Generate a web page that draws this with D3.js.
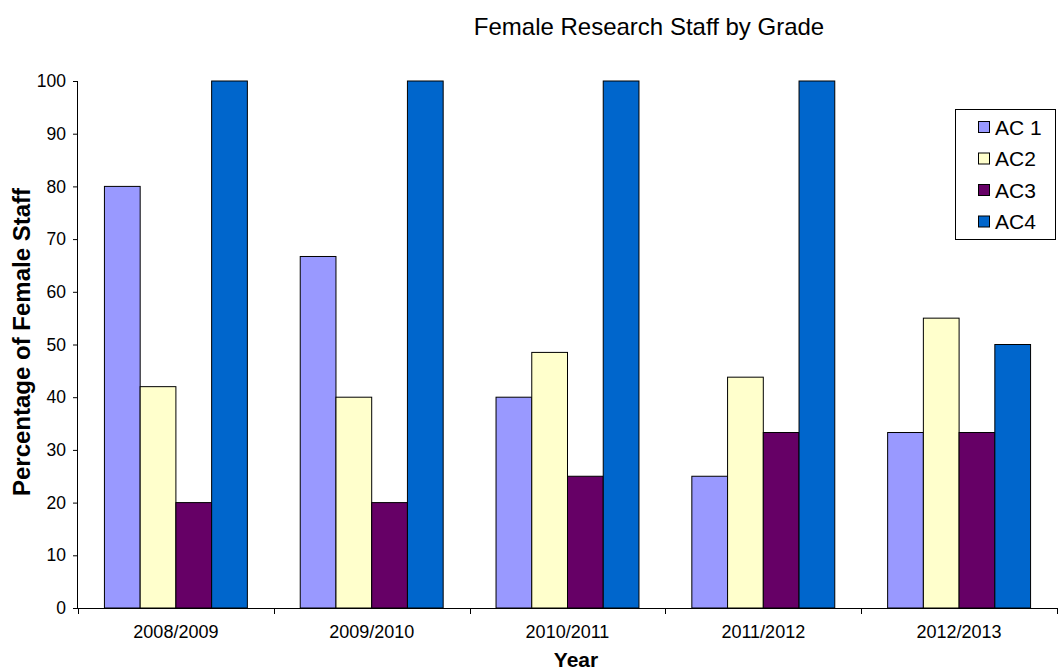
<!DOCTYPE html>
<html>
<head>
<meta charset="utf-8">
<script src="https://cdn.jsdelivr.net/npm/d3@7"></script>
<style>
  body { margin: 0; background: #fff; }
  text { font-family: "Liberation Sans", Arial, sans-serif; }
</style>
</head>
<body>
<div id="chart"></div>
<script>
// data
const years = ["2008/2009", "2009/2010", "2010/2011", "2011/2012", "2012/2013"];
const grades = ["AC 1", "AC2", "AC3", "AC4"];
const ac1 = [80, 66.7, 40, 25, 33.3];
const ac2 = [42, 40, 48.5, 43.8, 55];
const ac3 = [20, 20, 25, 33.3, 33.3];
const ac4 = [100, 100, 100, 100, 50];
const yTicks = [0, 10, 20, 30, 40, 50, 60, 70, 80, 90, 100];
const colors = ["#9999ff", "#ffffcc", "#660066", "#0066cc"];

const series = [ac1, ac2, ac3, ac4];

let width = 1060, height = 670;
let margin = {left: 78, right: 3, top: 81, bottom: 62};

let svg = d3.select("#chart")
    .append("svg")
    .attr("width", width)
    .attr("height", height);

let x0 = d3.scaleBand()
    .domain(years)
    .range([margin.left, width - margin.right])
    .paddingInner(0.27)
    .paddingOuter(0.135);

let x1 = d3.scaleBand()
    .domain(grades)
    .range([0, x0.bandwidth()]);

let y = d3.scaleLinear()
    .domain([0, 100])
    .range([height - margin.bottom, margin.top]);

let color = d3.scaleOrdinal().domain(grades).range(colors);

// bars
let groups = svg.selectAll(".grp")
    .data(years)
    .enter()
    .append("g")
    .attr("class", "grp")
    .attr("transform", function(d) { return "translate(" + x0(d) + ",0)"; });

groups.selectAll("rect")
    .data(function(d, i) {
      return grades.map(function(g, j) { return {grade: g, value: series[j][i]}; });
    })
    .enter()
    .append("rect")
    .attr("x", function(d) { return x1(d.grade); })
    .attr("y", function(d) { return y(d.value); })
    .attr("width", x1.bandwidth())
    .attr("height", function(d) { return y(0) - y(d.value); })
    .attr("fill", function(d) { return color(d.grade); })
    .attr("stroke", "#000")
    .attr("stroke-width", 1);

// y axis
let yAxis = svg.append("g")
    .attr("transform", "translate(" + margin.left + ",0)")
    .call(d3.axisLeft(y).tickValues(yTicks).tickSize(5).tickPadding(7));
yAxis.selectAll("text").attr("font-size", 17.5).attr("fill", "#000").attr("font-family", "Liberation Sans, Arial, sans-serif");
yAxis.selectAll("line, path").attr("stroke", "#000");
yAxis.select("path").attr("d", "M-0.5," + y(100) + "V" + y(0));

// x axis: ticks at category boundaries
let xg = svg.append("g")
    .attr("transform", "translate(0," + y(0) + ")");
xg.append("line")
    .attr("x1", margin.left).attr("x2", width - margin.right)
    .attr("y1", 0.5).attr("y2", 0.5)
    .attr("stroke", "#000");
let step = x0.step();
let bounds = d3.range(years.length + 1).map(function(i) { return margin.left + i * step; });
xg.selectAll(".xt")
    .data(bounds)
    .enter()
    .append("line")
    .attr("x1", function(d) { return Math.round(d) + 0.5; })
    .attr("x2", function(d) { return Math.round(d) + 0.5; })
    .attr("y1", 0).attr("y2", 6)
    .attr("stroke", "#000");
xg.selectAll(".xl")
    .data(years)
    .enter()
    .append("text")
    .attr("x", function(d) { return x0(d) + x0.bandwidth() / 2; })
    .attr("y", 30)
    .attr("text-anchor", "middle")
    .attr("font-size", 18)
    .text(function(d) { return d; });

// title & axis titles
svg.append("text")
    .attr("x", 649).attr("y", 35)
    .attr("text-anchor", "middle")
    .attr("font-size", 24)
    .text("Female Research Staff by Grade");

svg.append("text")
    .attr("x", 576).attr("y", 667)
    .attr("text-anchor", "middle")
    .attr("font-size", 21)
    .attr("font-weight", "bold")
    .text("Year");

svg.append("text")
    .attr("transform", "translate(30,342) rotate(-90)")
    .attr("text-anchor", "middle")
    .attr("font-size", 24)
    .attr("font-weight", "bold")
    .text("Percentage of  Female Staff");

// legend
let legend = svg.append("g").attr("transform", "translate(955,109)");
legend.append("rect")
    .attr("x", 0.5).attr("y", 0.5)
    .attr("width", 100).attr("height", 130)
    .attr("fill", "#fff")
    .attr("stroke", "#000");
let items = legend.selectAll(".li")
    .data(grades)
    .enter()
    .append("g")
    .attr("transform", function(d, i) { return "translate(0," + (18 + i * 31.5) + ")"; });
items.append("rect")
    .attr("x", 23.5).attr("y", -5.5)
    .attr("width", 11).attr("height", 11)
    .attr("fill", function(d) { return color(d); })
    .attr("stroke", "#000");
items.append("text")
    .attr("x", 40).attr("y", 7.5)
    .attr("font-size", 21)
    .text(function(d) { return d; });
</script>
</body>
</html>
